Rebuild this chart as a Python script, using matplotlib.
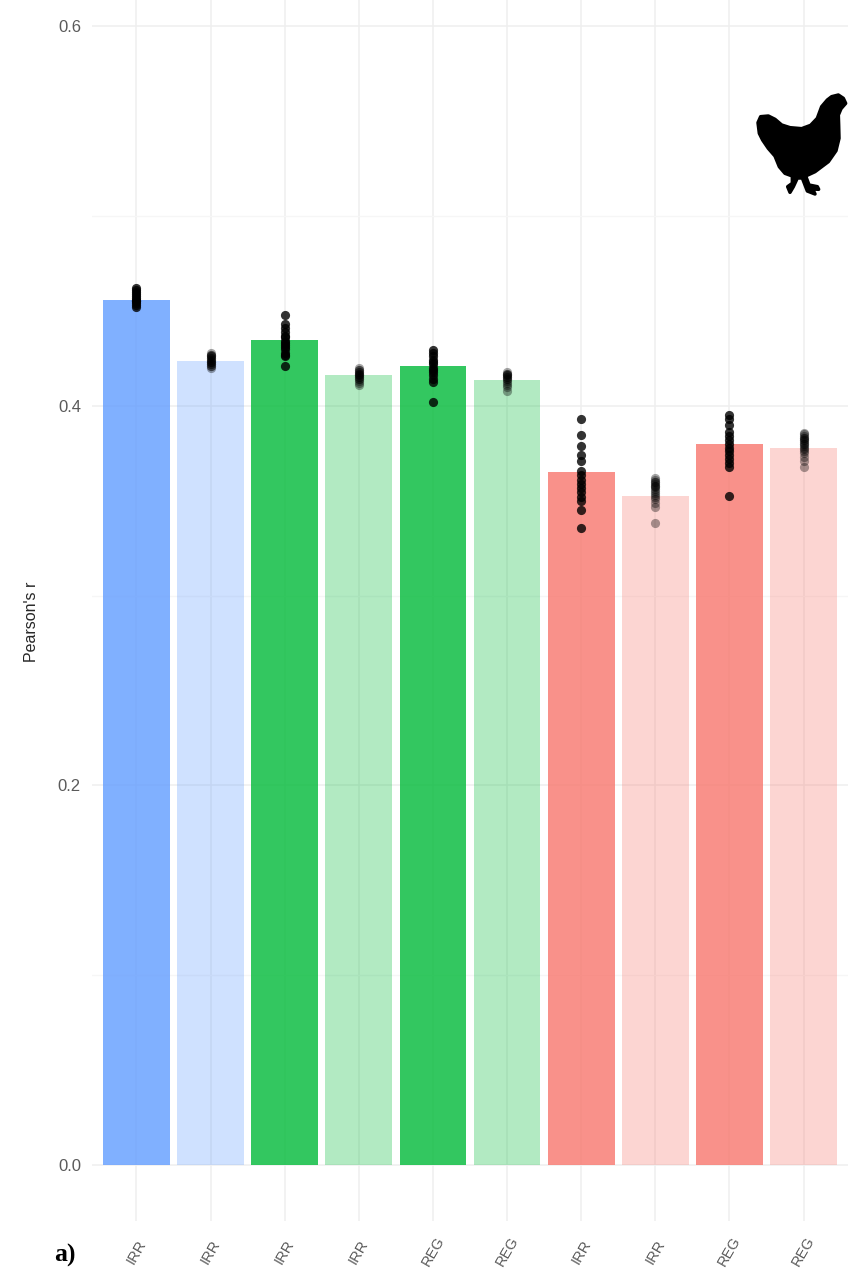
#!/usr/bin/python
# bars of mean Pearson's r per model, single runs as dots on top

import matplotlib
matplotlib.use('Agg')
import matplotlib.pyplot as plt
from matplotlib.patches import Polygon

labels = ['IRR', 'IRR', 'IRR', 'IRR', 'REG', 'REG', 'IRR', 'IRR', 'REG', 'REG']
means = [0.456, 0.4236, 0.4347, 0.416, 0.421, 0.4136, 0.365, 0.3525, 0.380, 0.3778]
colors = ['#619CFF', '#619CFF', '#00BA38', '#00BA38', '#00BA38', '#00BA38',
          '#F8766D', '#F8766D', '#F8766D', '#F8766D']
alphas = [0.8, 0.3, 0.8, 0.3, 0.8, 0.3, 0.8, 0.3, 0.8, 0.3]

runs = [
    [.462, .461, .460, .459, .458, .457, .456, .455, .455, .454, .453, .452],
    [.428, .427, .427, .426, .426, .425, .425, .424, .424, .423, .423, .423, .422, .422, .421, .421, .420],
    [.4478, .443, .441, .439, .437, .436, .434, .433, .432, .431, .430, .428, .427, .426, .421],
    [.420, .419, .419, .418, .418, .417, .417, .416, .416, .415, .415, .414, .414, .413, .412, .411],
    [.4295, .428, .426, .424, .423, .422, .420, .419, .418, .416, .414, .4125, .402],
    [.418, .417, .417, .416, .416, .415, .415, .414, .414, .413, .412, .411, .410, .408],
    [.393, .3846, .3788, .374, .371, .3657, .3635, .361, .3588, .3567, .3546, .352, .350, .345, .3356],
    [.362, .361, .360, .360, .359, .358, .358, .357, .356, .355, .354, .353, .352, .351, .349, .3467, .338],
    [.395, .393, .390, .386, .384, .382, .380, .378, .376, .374, .372, .370, .368, .3525],
    [.3857, .385, .384, .383, .383, .382, .382, .381, .380, .380, .379, .378, .377, .376, .375, .373, .371, .368],
]

y_major = [0.0, 0.2, 0.4, 0.6]
y_minor = [0.1, 0.3, 0.5]

# silhouette outline, zoomed crop coords
hen = [(262, 60), (275, 50), (295, 45), (310, 55), (317, 70), (303, 86), (295, 105), (296, 135), (297, 175),
       (288, 212), (265, 245), (225, 275), (197, 288), (207, 315), (232, 320), (236, 328), (218, 327),
       (225, 342), (202, 333), (187, 294), (172, 294), (160, 320), (150, 337), (143, 320), (157, 310),
       (157, 288), (135, 280), (118, 260), (105, 228), (85, 205), (68, 180), (58, 160), (54, 128), (62, 110),
       (85, 108), (105, 118), (125, 135), (150, 143), (185, 146), (212, 136), (232, 115), (245, 80)]

W, H = 849, 1283
fig = plt.figure(figsize=(W / 100, H / 100), dpi=100)
plt.rcParams['font.family'] = ['Liberation Sans', 'DejaVu Sans']

ax = fig.add_axes([92 / W, (H - 1221) / H, (848 - 92) / W, 1221 / H])
ax.set_xlim(-0.6, 9.6)
ax.set_ylim(-0.0295, 0.6138)
for s in ax.spines.values():
    s.set_visible(False)

ax.set_axisbelow(True)
ax.set_yticks(y_major)
ax.set_yticks(y_minor, minor=True)
ax.grid(which='major', color='#EFEFEF', linewidth=1.1)
ax.grid(which='minor', axis='y', color='#F6F6F6', linewidth=0.9)

for i in range(len(means)):
    ax.bar(i, means[i], width=0.9, color=colors[i], alpha=alphas[i], linewidth=0, zorder=2)
    ax.plot([i] * len(runs[i]), runs[i], 'o', color='black', markersize=6.6,
            markeredgewidth=0, alpha=max(alphas[i], 0.35), zorder=3)

ax.set_xticks(range(len(labels)))
ax.set_xticklabels(labels, rotation=60, ha='center', va='center', fontsize=10.5, color='#5A5A5A')
ax.set_yticklabels(['0.0', '0.2', '0.4', '0.6'], fontsize=12, color='#5A5A5A')
ax.tick_params(axis='x', which='both', length=0, pad=22)
ax.tick_params(axis='y', which='both', length=0, pad=8)
ax.tick_params(axis='y', which='minor', labelleft=False)

fig.text(32 / W, 1 - 622 / H, "Pearson's r", rotation=90, ha='center', va='center', fontsize=11.5,
         color='#262626')
fig.text(65 / W, 1 - 1255 / H, 'a)', ha='center', va='center', fontsize=18.5, fontweight='bold',
         family=['Liberation Serif'], color='black')

outline = [((740 + x / 3) / W, 1 - (80 + y / 3) / H) for x, y in hen]
fig.add_artist(Polygon(outline, closed=True, facecolor='black', edgecolor='black', linewidth=2.5,
                       joinstyle='round', transform=fig.transFigure))

plt.savefig('out.png', dpi=100)
